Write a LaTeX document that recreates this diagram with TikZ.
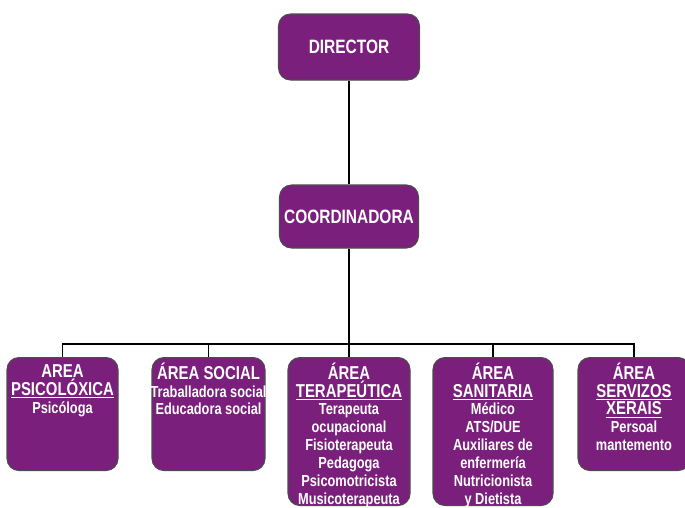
\documentclass[tikz,border=0pt]{standalone}
\usepackage{fontspec}
\setmainfont{Liberation Sans}[FakeStretch=0.8]
\definecolor{roxo}{RGB}{123,31,125}
\newcommand{\cab}[1]{{\fontsize{14}{13.5}\selectfont #1}}
\begin{document}
\begin{tikzpicture}[x=0.75pt, y=-0.75pt,
    caixa/.style={rectangle, rounded corners=9pt, draw=black!70, line width=0.8pt, fill=roxo,
      inner sep=0pt, text=white, font=\bfseries\fontsize{14.5}{17}\selectfont},
    texto/.style={align=center, text=white, inner sep=0pt, anchor=north,
      font=\bfseries\fontsize{12}{13.4}\selectfont},
    liña/.style={line width=1.1pt, black}]
  \useasboundingbox (0,0) rectangle (685,507);

  % 1. Dirección e coordinación
  \node[caixa, minimum width=105.75pt, minimum height=49.5pt] (dir) at (349,47) {DIRECTOR};
  \node[caixa, minimum width=104.25pt, minimum height=47.25pt] (coord) at (349,216.5) {COORDINADORA};
  \coordinate (bar) at (349,344);
  \draw[liña] (dir.south) -- (coord.north);
  \draw[liña] (coord.south) -- (bar);

  % 2. Caixas das áreas, penduradas da barra horizontal
  \foreach \nome/\x/\w/\h/\txt in {
      psi/62.5/83.25/84.75/{\cab{AREA}\\\cab{\underline{PSICOLÓXICA}}\\Psicóloga},
      soc/208.5/84.75/84.75/{\cab{ÁREA SOCIAL}\\Traballadora social\\Educadora social},
      ter/349/91.5/111/{\cab{ÁREA}\\\cab{\underline{TERAPEÚTICA}}\\Terapeuta\\ocupacional\\Fisioterapeuta\\Pedagoga\\Psicomotricista\\Musicoterapeuta},
      san/493/90/111/{\cab{ÁREA}\\\cab{\underline{SANITARIA}}\\Médico\\ATS/DUE\\Auxiliares de\\enfermería\\Nutricionista\\y Dietista},
      ser/634/84/84.75/{\cab{ÁREA}\\\cab{\underline{SERVIZOS}}\\\cab{\underline{XERAIS}}\\Persoal\\mantemento}} {
    \node[caixa, minimum width=\w pt, minimum height=\h pt, anchor=north] (\nome) at (\x,357) {};
    \node[texto] (\nome-txt) at ([yshift=-4pt]\nome.north) {\rule{0pt}{11pt}\txt};
    \draw[liña] (bar) -| (\nome.north);   % ramal desde a barra
  }
\end{tikzpicture}
\end{document}
